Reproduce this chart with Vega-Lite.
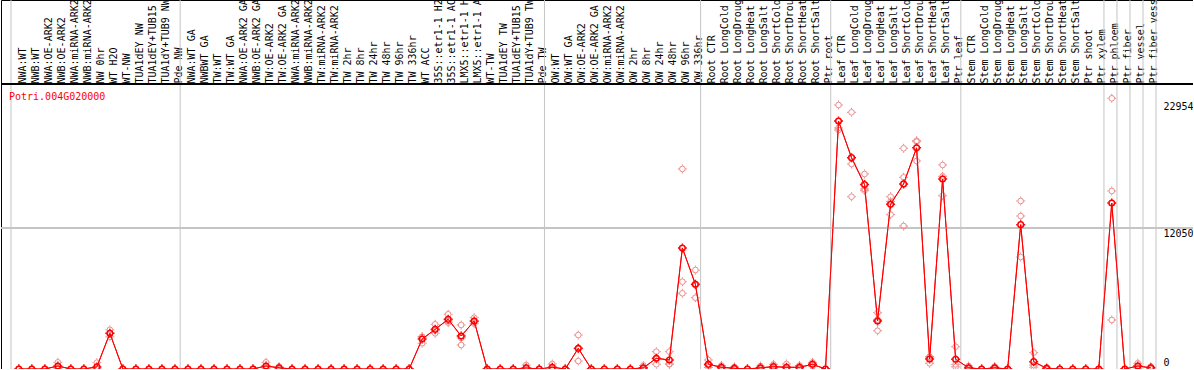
{
  "$schema": "https://vega.github.io/schema/vega-lite/v6.json",
  "width": 1192,
  "height": 369,
  "autosize": {"type": "none"},
  "padding": {"left": 1, "top": 0, "right": 0, "bottom": 0},
  "background": "white",
  "config": {
    "view": {"stroke": "black", "strokeWidth": 1},
    "axis": {"labelFont": "DejaVu Sans Mono", "labelFontSize": 10, "labelColor": "black"}
  },
  "data": {
    "values": [
      {"s": "NWA:WT", "g": "NW", "m": 0, "a": 0, "b": 0, "c": 0},
      {"s": "NWB:WT", "g": "NW", "m": 0, "a": 0, "b": 0, "c": 0},
      {"s": "NWA:OE-ARK2", "g": "NW", "m": 0, "a": 0, "b": 0, "c": 0},
      {"s": "NWB:OE-ARK2", "g": "NW", "m": 256, "a": 570, "b": 150, "c": 50},
      {"s": "NWA:miRNA-ARK2", "g": "NW", "m": 0, "a": 0, "b": 0, "c": 0},
      {"s": "NWB:miRNA-ARK2", "g": "NW", "m": 0, "a": 0, "b": 0, "c": 0},
      {"s": "NW 0hr", "g": "NW", "m": 180, "a": 540, "b": 0, "c": 0},
      {"s": "WT H2O", "g": "NW", "m": 3050, "a": 3350, "b": 3050, "c": 2750},
      {"s": "WT-NW", "g": "NW", "m": 0, "a": 0, "b": 0, "c": 0},
      {"s": "TUA1dEY NW", "g": "NW", "m": 0, "a": 0, "b": 0, "c": 0},
      {"s": "TUA1dEY+TUB15 NW", "g": "NW", "m": 0, "a": 0, "b": 0, "c": 0},
      {"s": "TUA1dY+TUB9 NW", "g": "NW", "m": 0, "a": 0, "b": 0, "c": 0},
      {"s": "Pde NW", "g": "NW", "m": 0, "a": 0, "b": 0, "c": 0},
      {"s": "NWA:WT GA", "g": "TW", "m": 0, "a": 0, "b": 0, "c": 0},
      {"s": "NWBWT GA", "g": "TW", "m": 0, "a": 0, "b": 0, "c": 0},
      {"s": "TW:WT", "g": "TW", "m": 0, "a": 0, "b": 0, "c": 0},
      {"s": "TW:WT GA", "g": "TW", "m": 0, "a": 0, "b": 0, "c": 0},
      {"s": "NWA:OE-ARK2 GA", "g": "TW", "m": 0, "a": 0, "b": 0, "c": 0},
      {"s": "NWB:OE-ARK2 GA", "g": "TW", "m": 0, "a": 0, "b": 0, "c": 0},
      {"s": "TW:OE-ARK2", "g": "TW", "m": 260, "a": 570, "b": 160, "c": 50},
      {"s": "TW:OE-ARK2 GA", "g": "TW", "m": 100, "a": 200, "b": 100, "c": 0},
      {"s": "NWA:miRNA-ARK2 GA", "g": "TW", "m": 0, "a": 0, "b": 0, "c": 0},
      {"s": "NWB:miRNA-ARK2 GA", "g": "TW", "m": 0, "a": 0, "b": 0, "c": 0},
      {"s": "TW:miRNA-ARK2", "g": "TW", "m": 0, "a": 0, "b": 0, "c": 0},
      {"s": "TW:miRNA-ARK2 GA", "g": "TW", "m": 0, "a": 0, "b": 0, "c": 0},
      {"s": "TW 2hr", "g": "TW", "m": 0, "a": 0, "b": 0, "c": 0},
      {"s": "TW 8hr", "g": "TW", "m": 0, "a": 0, "b": 0, "c": 0},
      {"s": "TW 24hr", "g": "TW", "m": 0, "a": 0, "b": 0, "c": 0},
      {"s": "TW 48hr", "g": "TW", "m": 0, "a": 0, "b": 0, "c": 0},
      {"s": "TW 96hr", "g": "TW", "m": 0, "a": 0, "b": 0, "c": 0},
      {"s": "TW 336hr", "g": "TW", "m": 0, "a": 0, "b": 0, "c": 0},
      {"s": "WT ACC", "g": "TW", "m": 2564, "a": 2760, "b": 2730, "c": 2200},
      {"s": "35S::etr1-1 H2O", "g": "TW", "m": 3390, "a": 3820, "b": 3300, "c": 3050},
      {"s": "35S::etr1-1 ACC", "g": "TW", "m": 4245, "a": 4675, "b": 4100, "c": 3960},
      {"s": "LMX5::etr1-1 H2O", "g": "TW", "m": 2820, "a": 3760, "b": 2650, "c": 2050},
      {"s": "LMX5::etr1-1 ACC", "g": "TW", "m": 4100, "a": 4385, "b": 4040, "c": 3875},
      {"s": "WT-TW", "g": "TW", "m": 0, "a": 0, "b": 0, "c": 0},
      {"s": "TUA1dEY TW", "g": "TW", "m": 0, "a": 0, "b": 0, "c": 0},
      {"s": "TUA1dEY+TUB15 TW", "g": "TW", "m": 0, "a": 0, "b": 0, "c": 0},
      {"s": "TUA1dY+TUB9 TW", "g": "TW", "m": 90, "a": 340, "b": 0, "c": 0},
      {"s": "Pde TW", "g": "TW", "m": 0, "a": 0, "b": 0, "c": 0},
      {"s": "OW:WT", "g": "OW", "m": 150, "a": 430, "b": 20, "c": 0},
      {"s": "OW:WT GA", "g": "OW", "m": 0, "a": 0, "b": 0, "c": 0},
      {"s": "OW:OE-ARK2", "g": "OW", "m": 1770, "a": 2900, "b": 1730, "c": 680},
      {"s": "OW:OE-ARK2 GA", "g": "OW", "m": 0, "a": 0, "b": 0, "c": 0},
      {"s": "OW:miRNA-ARK2", "g": "OW", "m": 0, "a": 0, "b": 0, "c": 0},
      {"s": "OW:miRNA-ARK2 GA", "g": "OW", "m": 0, "a": 0, "b": 0, "c": 0},
      {"s": "OW 2hr", "g": "OW", "m": 0, "a": 0, "b": 0, "c": 0},
      {"s": "OW 8hr", "g": "OW", "m": 100, "a": 300, "b": 0, "c": 0},
      {"s": "OW 24hr", "g": "OW", "m": 915, "a": 1480, "b": 865, "c": 400},
      {"s": "OW 48hr", "g": "OW", "m": 770, "a": 1480, "b": 430, "c": 400},
      {"s": "OW 96hr", "g": "OW", "m": 10343, "a": 17100, "b": 7460, "c": 6470},
      {"s": "OW 336hr", "g": "OW", "m": 7240, "a": 8460, "b": 7170, "c": 6090},
      {"s": "Root CTR", "g": "Root", "m": 400, "a": 770, "b": 300, "c": 130},
      {"s": "Root LongCold", "g": "Root", "m": 145, "a": 300, "b": 100, "c": 35},
      {"s": "Root LongDrought", "g": "Root", "m": 60, "a": 180, "b": 0, "c": 0},
      {"s": "Root LongHeat", "g": "Root", "m": 0, "a": 0, "b": 0, "c": 0},
      {"s": "Root LongSalt", "g": "Root", "m": 100, "a": 250, "b": 50, "c": 0},
      {"s": "Root ShortCold", "g": "Root", "m": 200, "a": 400, "b": 150, "c": 50},
      {"s": "Root ShortDrought", "g": "Root", "m": 145, "a": 430, "b": 5, "c": 0},
      {"s": "Root ShortHeat", "g": "Root", "m": 145, "a": 300, "b": 100, "c": 35},
      {"s": "Root ShortSalt", "g": "Root", "m": 400, "a": 570, "b": 400, "c": 230},
      {"s": "Ptr root", "g": "Root", "m": 0, "a": 0, "b": 0, "c": 0},
      {"s": "Leaf CTR", "g": "Leaf", "m": 21194, "a": 22560, "b": 20600, "c": 20425},
      {"s": "Leaf LongCold", "g": "Leaf", "m": 18060, "a": 21937, "b": 17520, "c": 14725},
      {"s": "Leaf LongDrought", "g": "Leaf", "m": 15760, "a": 16665, "b": 15383, "c": 15240},
      {"s": "Leaf LongHeat", "g": "Leaf", "m": 4100, "a": 4810, "b": 4220, "c": 3270},
      {"s": "Leaf LongSalt", "g": "Leaf", "m": 14075, "a": 14725, "b": 14300, "c": 13200},
      {"s": "Leaf ShortCold", "g": "Leaf", "m": 15820, "a": 18860, "b": 16380, "c": 12220},
      {"s": "Leaf ShortDrought", "g": "Leaf", "m": 18900, "a": 19510, "b": 19425, "c": 17776},
      {"s": "Leaf ShortHeat", "g": "Leaf", "m": 855, "a": 1050, "b": 1030, "c": 487},
      {"s": "Leaf ShortSalt", "g": "Leaf", "m": 16237, "a": 17434, "b": 16467, "c": 14810},
      {"s": "Ptr leaf", "g": "Leaf", "m": 830, "a": 1905, "b": 400, "c": 185},
      {"s": "Stem CTR", "g": "Stem", "m": 100, "a": 250, "b": 50, "c": 0},
      {"s": "Stem LongCold", "g": "Stem", "m": 0, "a": 0, "b": 0, "c": 0},
      {"s": "Stem LongDrought", "g": "Stem", "m": 100, "a": 200, "b": 100, "c": 0},
      {"s": "Stem LongHeat", "g": "Stem", "m": 0, "a": 0, "b": 0, "c": 0},
      {"s": "Stem LongSalt", "g": "Stem", "m": 12334, "a": 14357, "b": 13075, "c": 9571},
      {"s": "Stem ShortCold", "g": "Stem", "m": 625, "a": 1395, "b": 330, "c": 150},
      {"s": "Stem ShortDrought", "g": "Stem", "m": 50, "a": 150, "b": 0, "c": 0},
      {"s": "Stem ShortHeat", "g": "Stem", "m": 0, "a": 0, "b": 0, "c": 0},
      {"s": "Stem ShortSalt", "g": "Stem", "m": 0, "a": 0, "b": 0, "c": 0},
      {"s": "Ptr shoot", "g": "Stem", "m": 0, "a": 0, "b": 0, "c": 0},
      {"s": "Ptr xylem", "g": "Stem", "m": 0, "a": 0, "b": 0, "c": 0},
      {"s": "Ptr phloem", "g": "Ptr phloem", "m": 14178, "a": 23134, "b": 15212, "c": 4188},
      {"s": "Ptr fiber", "g": "Ptr fiber", "m": 0, "a": 0, "b": 0, "c": 0},
      {"s": "Ptr vessel", "g": "Ptr vessel", "m": 256, "a": 490, "b": 200, "c": 80},
      {"s": "Ptr fiber vessel", "g": "Ptr fiber vessel", "m": 100, "a": 200, "b": 100, "c": 0}
    ]
  },
  "layer": [
    {
      "mark": {"type": "line", "color": "#ff0000", "strokeWidth": 1},
      "encoding": {
        "x": {
          "field": "s", "type": "nominal", "sort": null, "bandPosition": 0.6,
          "scale": {"type": "band", "range": [10, 1155], "paddingInner": 0, "paddingOuter": 0},
          "axis": {
            "orient": "top", "offset": -84, "title": null, "labelAngle": -90,
            "labelAlign": "left", "labelBaseline": "middle", "labelPadding": 1,
            "ticks": false, "domain": false, "grid": false, "labelOverlap": false,
            "labelLimit": 1000, "labelFlush": false, "bandPosition": 0.6, "labelOffset": 5
          }
        },
        "y": {
          "field": "m", "type": "quantitative",
          "scale": {"domain": [0, 31535], "nice": false, "zero": true},
          "axis": {
            "orient": "right", "offset": -32, "title": null, "values": [0, 12050, 22954],
            "format": "d", "ticks": false, "domain": false, "grid": false,
            "labelPadding": 2, "labelAlign": "left", "labelBaseline": "middle",
            "labelOverlap": false, "labelFlush": false,
            "labelOffset": {"condition": {"test": "datum.value == 0", "value": -7}, "value": 6}
          }
        },
        "order": {"value": null}
      }
    },
    {
      "transform": [
        {"window": [{"op": "first_value", "field": "s", "as": "gf"}], "groupby": ["g"], "frame": [null, null]},
        {"filter": "datum.s === datum.gf"}
      ],
      "mark": {"type": "rule", "color": "#c4c4c4", "strokeWidth": 1},
      "encoding": {"x": {"field": "s", "type": "nominal", "sort": null, "bandPosition": 0}}
    },
    {
      "transform": [{"filter": "datum.s === 'Ptr fiber vessel'"}],
      "mark": {"type": "rule", "color": "#c4c4c4", "strokeWidth": 1},
      "encoding": {"x": {"field": "s", "type": "nominal", "sort": null, "bandPosition": 1}}
    },
    {
      "mark": {"type": "rule", "color": "#c4c4c4", "strokeWidth": 1},
      "encoding": {"y": {"datum": 12050, "type": "quantitative"}}
    },
    {
      "mark": {"type": "rule", "color": "black", "strokeWidth": 1},
      "encoding": {"y": {"datum": 24356, "type": "quantitative"}}
    },
    {
      "transform": [{"fold": ["a", "b", "c"], "as": ["rep", "v"]}],
      "mark": {"type": "point", "shape": "circle", "filled": false, "color": "#ec8c8c", "strokeWidth": 1, "size": 32, "opacity": 1},
      "encoding": {
        "x": {"field": "s", "type": "nominal", "sort": null, "bandPosition": 0.6},
        "y": {"field": "v", "type": "quantitative"}
      }
    },
    {
      "transform": [{"fold": ["a", "b", "c"], "as": ["rep", "v"]}],
      "mark": {"type": "point", "shape": "M0,-1L0,-0.7M0,0.7L0,1M-1,0L-0.7,0M0.7,0L1,0", "filled": false, "color": "#ec8c8c", "strokeWidth": 1, "size": 81, "opacity": 1},
      "encoding": {
        "x": {"field": "s", "type": "nominal", "sort": null, "bandPosition": 0.6},
        "y": {"field": "v", "type": "quantitative"}
      }
    },
    {
      "mark": {"type": "line", "color": "#ff0000", "strokeWidth": 1},
      "encoding": {
        "x": {"field": "s", "type": "nominal", "sort": null, "bandPosition": 0.6},
        "y": {"field": "m", "type": "quantitative"},
        "order": {"value": null}
      }
    },
    {
      "mark": {"type": "point", "shape": "circle", "filled": false, "color": "#ff0000", "strokeWidth": 1.5, "size": 32, "opacity": 1},
      "encoding": {
        "x": {"field": "s", "type": "nominal", "sort": null, "bandPosition": 0.6},
        "y": {"field": "m", "type": "quantitative"}
      }
    },
    {
      "mark": {"type": "point", "shape": "M0,-1L0,-0.7M0,0.7L0,1M-1,0L-0.7,0M0.7,0L1,0", "filled": false, "color": "#ff0000", "strokeWidth": 1.5, "size": 81, "opacity": 1},
      "encoding": {
        "x": {"field": "s", "type": "nominal", "sort": null, "bandPosition": 0.6},
        "y": {"field": "m", "type": "quantitative"}
      }
    },
    {
      "transform": [{"filter": "datum.s === 'NWA:WT'"}],
      "mark": {"type": "text", "text": "Potri.004G020000", "color": "#ff0000", "font": "DejaVu Sans Mono", "fontSize": 10, "align": "left", "baseline": "middle", "dx": -2},
      "encoding": {
        "x": {"field": "s", "type": "nominal", "sort": null, "bandPosition": 0},
        "y": {"datum": 23245, "type": "quantitative"}
      }
    }
  ]
}
